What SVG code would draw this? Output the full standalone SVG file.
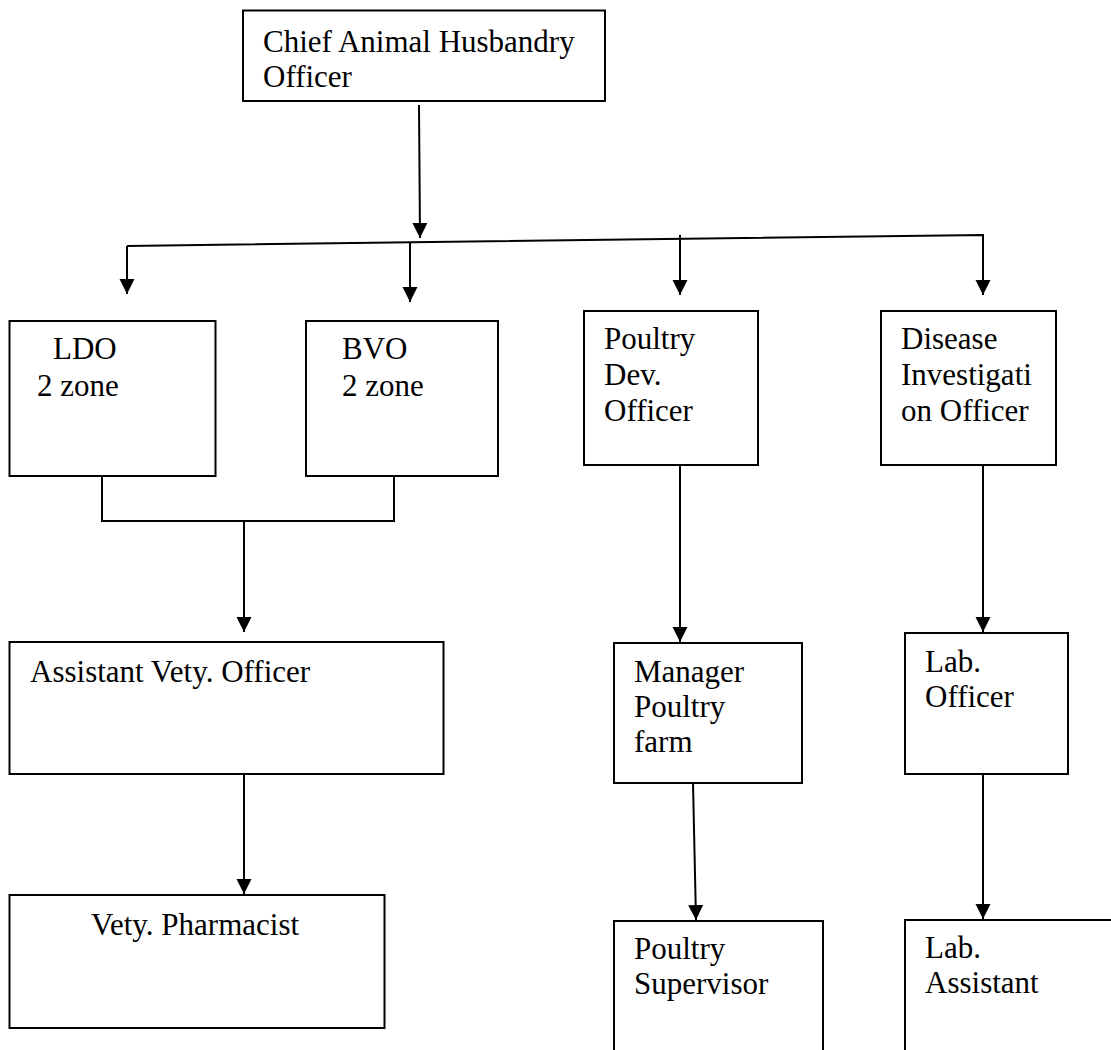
<svg xmlns="http://www.w3.org/2000/svg" width="1111" height="1050" viewBox="0 0 1111 1050">
<style>
.box{fill:#fff;stroke:#000;stroke-width:2}
.t{font-family:"Liberation Serif","Times New Roman",serif;font-size:31px;fill:#000}
.c{fill:none;stroke:#000;stroke-width:2}
</style>
<defs>
<marker id="ah" markerUnits="userSpaceOnUse" markerWidth="16" markerHeight="16" viewBox="0 0 16 16" refX="15" refY="7.5" orient="auto">
<path d="M0,0 L15,7.5 L0,15 z" fill="#000"/>
</marker>
</defs>
<rect width="1111" height="1050" fill="#fff"/>
<g id="connectors">
<path class="c" d="M419,105 L420,238" marker-end="url(#ah)"/>
<path class="c" d="M127,246 L983,235 L983,295" marker-end="url(#ah)"/>
<path class="c" d="M127,246 L127,294" marker-end="url(#ah)"/>
<path class="c" d="M410,243 L410,302" marker-end="url(#ah)"/>
<path class="c" d="M680,235 L680,295" marker-end="url(#ah)"/>
<path class="c" d="M102,476 L102,521 L394,521 L394,476"/>
<path class="c" d="M244,521 L244,632" marker-end="url(#ah)"/>
<path class="c" d="M244,774 L244,894" marker-end="url(#ah)"/>
<path class="c" d="M680,465 L680,642" marker-end="url(#ah)"/>
<path class="c" d="M983,465 L983,632" marker-end="url(#ah)"/>
<path class="c" d="M693,783 L696,920" marker-end="url(#ah)"/>
<path class="c" d="M983,774 L983,919" marker-end="url(#ah)"/>
</g>
<g id="chief">
<rect class="box" x="243" y="10.5" width="362" height="90.5"/>
<text class="t" x="263" y="52">Chief Animal Husbandry</text>
<text class="t" x="263" y="87">Officer</text>
</g>
<g id="ldo">
<rect class="box" x="9.5" y="321" width="206" height="155"/>
<text class="t" x="53" y="359">LDO</text>
<text class="t" x="37" y="396">2 zone</text>
</g>
<g id="bvo">
<rect class="box" x="306" y="321" width="192" height="155"/>
<text class="t" x="342" y="359">BVO</text>
<text class="t" x="342" y="396">2 zone</text>
</g>
<g id="poultry-dev">
<rect class="box" x="584" y="311" width="174" height="154"/>
<text class="t" x="604" y="349">Poultry</text>
<text class="t" x="604" y="385">Dev.</text>
<text class="t" x="604" y="421">Officer</text>
</g>
<g id="disease">
<rect class="box" x="881" y="311" width="175" height="154"/>
<text class="t" x="901" y="349">Disease</text>
<text class="t" x="901" y="385">Investigati</text>
<text class="t" x="901" y="421">on Officer</text>
</g>
<g id="assistant">
<rect class="box" x="9.5" y="642" width="434" height="132"/>
<text class="t" x="30" y="682">Assistant Vety. Officer</text>
</g>
<g id="pharmacist">
<rect class="box" x="9.5" y="895" width="375" height="133"/>
<text class="t" x="91" y="935">Vety. Pharmacist</text>
</g>
<g id="manager">
<rect class="box" x="614" y="643" width="188" height="140"/>
<text class="t" x="634" y="682">Manager</text>
<text class="t" x="634" y="717">Poultry</text>
<text class="t" x="634" y="752">farm</text>
</g>
<g id="lab-officer">
<rect class="box" x="905" y="633" width="163" height="141"/>
<text class="t" x="925" y="672">Lab.</text>
<text class="t" x="925" y="707">Officer</text>
</g>
<g id="supervisor">
<rect class="box" x="614" y="921" width="209" height="140"/>
<text class="t" x="634" y="959">Poultry</text>
<text class="t" x="634" y="994">Supervisor</text>
</g>
<g id="lab-assistant">
<rect class="box" x="905" y="920" width="220" height="140"/>
<text class="t" x="925" y="958">Lab.</text>
<text class="t" x="925" y="993">Assistant</text>
</g>
</svg>
